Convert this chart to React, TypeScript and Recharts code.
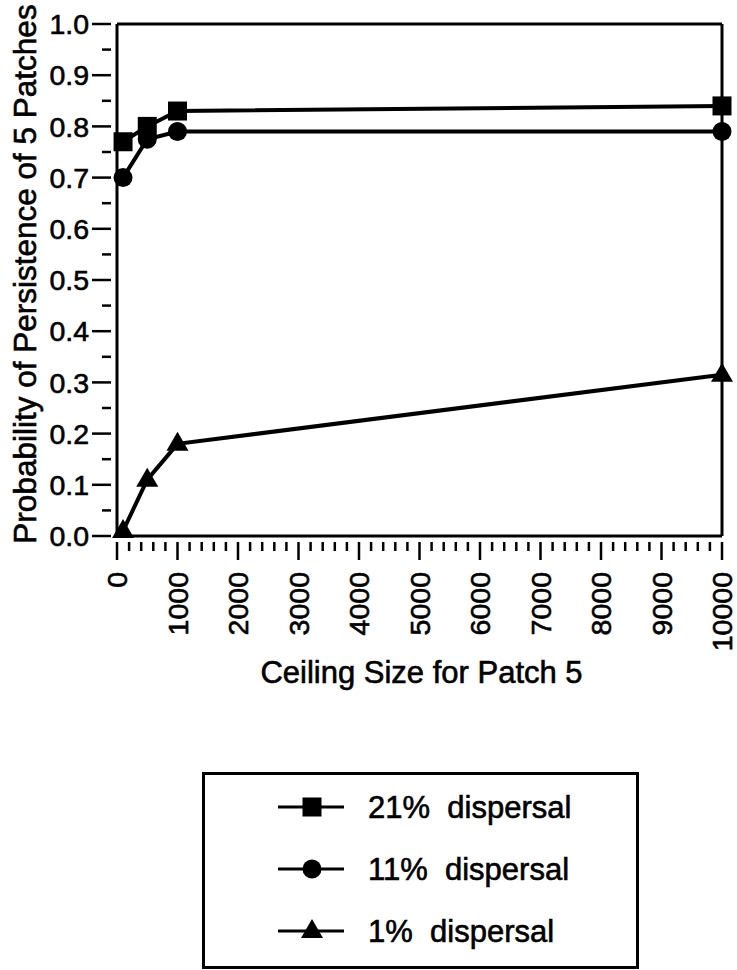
import { LineChart, Line, XAxis, YAxis, ReferenceLine } from "recharts"

// ceiling size for patch 5 (x) and probability of persistence (y)
const ceilingSizes = [100, 500, 1000, 10000]
const dispersal21 = [0.77, 0.8, 0.83, 0.84]
const dispersal11 = [0.7, 0.775, 0.79, 0.79]
const dispersal1 = [0.01, 0.11, 0.18, 0.315]

const xMajorTicks = [0, 1000, 2000, 3000, 4000, 5000, 6000, 7000, 8000, 9000, 10000]
const yMajorTicks = [0, 0.1, 0.2, 0.3, 0.4, 0.5, 0.6, 0.7, 0.8, 0.9, 1.0]
const xStepMinor = 200
const yStepMinor = 0.05

const legendLabels = ["21%  dispersal", "11%  dispersal", "1%  dispersal"]
const shapes = ["square", "circle", "triangle"]

const FONT = '"Liberation Sans", Arial, Helvetica, sans-serif'
const INK = "#000"
const textInk = { fill: INK, stroke: INK, strokeWidth: 0.6 }

const data = ceilingSizes.map((c, i) => ({
  ceiling: c,
  d21: dispersal21[i],
  d11: dispersal11[i],
  d1: dispersal1[i],
}))

const xAllTicks = Array.from({ length: 10000 / xStepMinor + 1 }, (_, i) => i * xStepMinor)
const yAllTicks = Array.from({ length: Math.round(1 / yStepMinor) + 1 }, (_, i) => +(i * yStepMinor).toFixed(2))

const isMajor = (v: number, majors: number[]) => majors.some((m) => Math.abs(m - v) < 1e-6)

function Marker({ shape, cx, cy }: { shape: string; cx: number; cy: number }) {
  if (shape === "square") return <rect x={cx - 9.5} y={cy - 9.5} width={19} height={19} fill={INK} />
  if (shape === "circle") return <circle cx={cx} cy={cy} r={9.5} fill={INK} />
  return <polygon points={`${cx},${cy - 12} ${cx - 11},${cy + 7} ${cx + 11},${cy + 7}`} fill={INK} />
}

const dotFor = (shape: string) => (props: any) => (
  <Marker key={`${shape}-${props.index}`} shape={shape} cx={props.cx} cy={props.cy} />
)

function YTick(props: any) {
  const { x, y, payload } = props
  const major = isMajor(payload.value, yMajorTicks)
  return (
    <g>
      <line x1={x} x2={x - (major ? 19 : 9)} y1={y} y2={y} stroke={INK} strokeWidth={2.5} />
      {major && (
        <text x={x - 22} y={y} dy="0.36em" textAnchor="end" fontSize={28.5} fontFamily={FONT} {...textInk}>
          {payload.value.toFixed(1)}
        </text>
      )}
    </g>
  )
}

function XTick(props: any) {
  const { x, y, payload } = props
  const major = isMajor(payload.value, xMajorTicks)
  const ty = y + 30
  return (
    <g>
      <line x1={x} x2={x} y1={y} y2={y + (major ? 18 : 9)} stroke={INK} strokeWidth={2.5} />
      {major && (
        <text
          x={x}
          y={ty}
          dy="0.36em"
          textAnchor="end"
          fontSize={28.5}
          fontFamily={FONT}
          {...textInk}
          transform={`rotate(-90, ${x}, ${ty})`}
        >
          {payload.value}
        </text>
      )}
    </g>
  )
}

function LegendBox() {
  return (
    <svg width={437} height={197} style={{ position: "absolute", left: 202, top: 772 }}>
      <rect x={1.5} y={1.5} width={434} height={194} fill="#fff" stroke={INK} strokeWidth={3} />
      {legendLabels.map((label, i) => {
        const cy = 35 + i * 62
        return (
          <g key={label}>
            <line x1={76} x2={142} y1={cy} y2={cy} stroke={INK} strokeWidth={3} />
            <Marker shape={shapes[i]} cx={110} cy={cy} />
            <text x={166} y={cy} dy="0.36em" fontSize={31} fontFamily={FONT} {...textInk} style={{ whiteSpace: "pre" }}>
              {label}
            </text>
          </g>
        )
      })}
    </svg>
  )
}

export default function App() {
  return (
    <div style={{ position: "absolute", left: 0, top: 0, width: 737, height: 970, background: "#fff" }}>
      <LineChart width={737} height={970} data={data} margin={{ top: 24, right: 15, left: 0, bottom: 334 }}>
        <XAxis
          dataKey="ceiling"
          type="number"
          domain={[0, 10000]}
          ticks={xAllTicks}
          interval={0}
          tick={<XTick />}
          tickLine={false}
          tickMargin={0}
          height={100}
          axisLine={{ stroke: INK, strokeWidth: 3 }}
          label={{
            content: (p: any) => (
              <text
                x={p.viewBox.x + p.viewBox.width / 2 + 2}
                y={p.viewBox.y + 147}
                textAnchor="middle"
                fontSize={31}
                fontFamily={FONT}
                {...textInk}
              >
                Ceiling Size for Patch 5
              </text>
            ),
          }}
        />
        <YAxis
          type="number"
          domain={[0, 1]}
          ticks={yAllTicks}
          interval={0}
          tick={<YTick />}
          tickLine={false}
          tickMargin={0}
          width={117}
          axisLine={{ stroke: INK, strokeWidth: 3 }}
          label={{
            content: (p: any) => {
              const cx = 36
              const cy = p.viewBox.y + p.viewBox.height / 2 - 6
              return (
                <text
                  x={cx}
                  y={cy}
                  textAnchor="middle"
                  fontSize={31.5}
                  fontFamily={FONT}
                  {...textInk}
                  transform={`rotate(-90, ${cx}, ${cy})`}
                >
                  Probability of Persistence of 5 Patches
                </text>
              )
            },
          }}
        />
        <ReferenceLine y={1} stroke={INK} strokeWidth={3} />
        <ReferenceLine x={10000} stroke={INK} strokeWidth={3} />
        <Line dataKey="d1" stroke={INK} strokeWidth={4} dot={dotFor("triangle")} isAnimationActive={false} />
        <Line dataKey="d11" stroke={INK} strokeWidth={4} dot={dotFor("circle")} isAnimationActive={false} />
        <Line dataKey="d21" stroke={INK} strokeWidth={4} dot={dotFor("square")} isAnimationActive={false} />
      </LineChart>
      <LegendBox />
    </div>
  )
}
